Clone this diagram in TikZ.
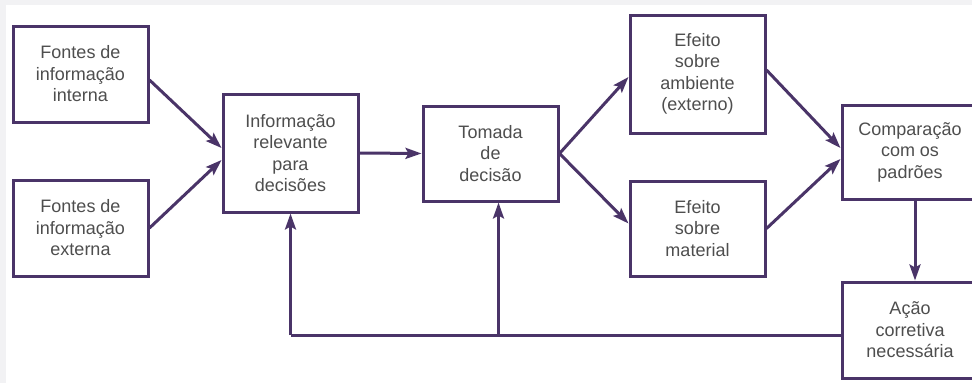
\documentclass[tikz,border=0pt]{standalone}
\usepackage{fontspec}
\setmainfont{Liberation Sans}
\usepackage{tikz}
\usetikzlibrary{calc,positioning,arrows.meta}

\definecolor{linha}{HTML}{4A3468}
\definecolor{texto}{HTML}{4E4E4E}
\definecolor{moldura}{HTML}{F2F2F4}

\begin{document}
\begin{tikzpicture}[x=1pt,y=-1pt,
  caixa/.style={draw=linha,line width=3pt,fill=white,text=texto,align=center,
    minimum width=135pt,inner sep=0pt,font=\fontsize{18}{21.5}\selectfont},
  seta/.style={draw=linha,line width=3pt,-{Stealth[length=16pt,width=11pt,inset=3pt]}},
  linhaf/.style={draw=linha,line width=3pt}]
  \clip (0,0) rectangle (972,383);
  \fill[moldura] (0,0) rectangle (972,383);
  \fill[white] (6,5) rectangle (972,383);
  % caixas
  \node[caixa,minimum height=96pt] (interna) at (80.5,74) {Fontes de\\informação\\interna};
  \node[caixa,minimum height=96pt] (externa) at (80.5,228) {Fontes de\\informação\\externa};
  \node[caixa,minimum height=118pt] (relevante) at (290.5,153) {Informação\\relevante\\para\\decisões};
  \node[caixa,minimum height=95pt] (tomada) at (490.5,153.5) {Tomada\\de\\decisão};
  \node[caixa,minimum height=118pt] (ambiente) at (697.5,74) {Efeito\\sobre\\ambiente\\(externo)};
  \node[caixa,minimum height=95pt] (material) at (697.5,228.5) {Efeito\\sobre\\material};
  \node[caixa,minimum height=94pt,minimum width=136pt] (padroes) at (910,152) {Comparação\\com os\\padrões};
  \node[caixa,minimum height=96pt,minimum width=136pt] (acao) at (910,330) {Ação\\corretiva\\necessária};
  % setas
  \draw[seta] ([yshift=-6pt]interna.east) -- ([yshift=5pt]relevante.west);
  \draw[seta] (externa.east) -- ([yshift=-7pt]relevante.west);
  \draw[seta] (relevante.east) -- (tomada.west);
  \draw[seta] (tomada.east) -- ([yshift=-3pt]ambiente.west);
  \draw[seta] (tomada.east) -- ([yshift=5pt]material.west);
  \draw[seta] ([yshift=4pt]ambiente.east) -- ([yshift=4pt]padroes.west);
  \draw[seta] (material.east) -- ([yshift=-7pt]padroes.west);
  \draw[seta] ([xshift=5pt]padroes.south) -- ([xshift=5pt]acao.north);
  % realimentacao
  \coordinate (saida) at ([yshift=-5pt]acao.west);
  \coordinate (ramo) at ([xshift=8pt]tomada.south |- saida);
  \draw[linhaf] (saida) -- (relevante |- saida) coordinate (canto);
  \draw[seta] (canto) -- (relevante.south);
  \draw[seta] (ramo) -- ([xshift=8pt]tomada.south);
\end{tikzpicture}
\end{document}
